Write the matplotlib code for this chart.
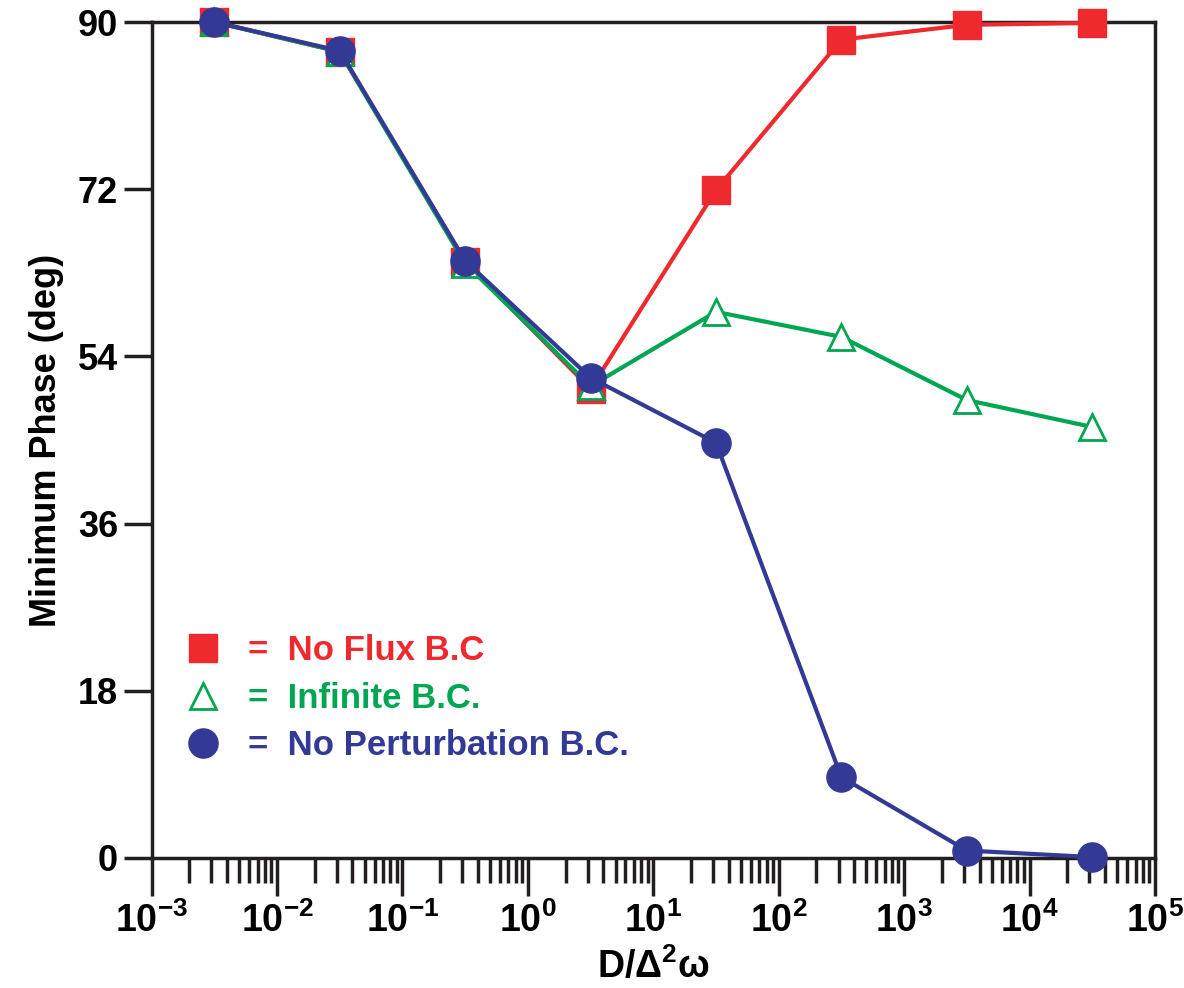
import numpy as np
import matplotlib.pyplot as plt
from matplotlib.lines import Line2D

plt.rcParams['font.family'] = ['Liberation Sans', 'DejaVu Sans']
plt.rcParams['font.weight'] = 'bold'
plt.rcParams['mathtext.fontset'] = 'custom'
plt.rcParams['mathtext.rm'] = 'Liberation Sans:bold'
plt.rcParams['mathtext.bf'] = 'Liberation Sans:bold'
plt.rcParams['mathtext.default'] = 'bf'

# D / Delta^2 omega
x = [10**-2.5, 10**-1.5, 10**-0.5, 10**0.5, 10**1.5, 10**2.5, 10**3.5, 10**4.5]
no_flux = [90.0, 86.8, 64.2, 50.5, 71.9, 88.1, 89.7, 89.9]
infinite = [90.0, 86.8, 64.0, 50.8, 58.8, 56.1, 49.3, 46.4]
no_pert = [90.0, 86.9, 64.3, 51.7, 44.7, 8.7, 0.8, 0.1]

red = '#EE2A2F'
green = '#00A651'
blue = '#333A96'

fig = plt.figure(figsize=(11.84, 9.88), dpi=100)
ax = fig.add_axes([0.128, 0.1316, 0.8475, 0.8461])

ax.plot(x, no_flux, color=red, lw=3, marker='s', ms=20, zorder=3, clip_on=False)
ax.plot(x, infinite, color=green, lw=3, marker='^', ms=19, mfc='white',
        mew=2, zorder=4, clip_on=False)
ax.plot(x, no_pert, color=blue, lw=3, marker='o', ms=21, zorder=5, clip_on=False)

ax.set_xscale('log')
ax.set_xlim(1e-3, 1e5)
ax.set_ylim(0, 90)
ax.set_yticks([0, 18, 36, 54, 72, 90])
ax.set_xticks([10.0**k for k in range(-3, 6)])

for s in ax.spines.values():
    s.set_linewidth(2.5)
    s.set_color('#231F20')

ax.tick_params(axis='y', direction='out', length=20, width=2.5, labelsize=26,
               color='#231F20', pad=4)
ax.tick_params(axis='x', which='major', direction='out', length=27, width=2.5,
               labelsize=27, color='#231F20', pad=5)
ax.tick_params(axis='x', which='minor', direction='out', length=18, width=2.5,
               color='#231F20')

ax.set_ylabel('Minimum Phase (deg)', fontsize=26, fontweight='bold', labelpad=10)
ax.set_xlabel(r'D/Δ$^{2}$ω', fontsize=27, fontweight='bold', labelpad=5)

handles = [
    Line2D([], [], color=red, marker='s', ms=20, ls='none'),
    Line2D([], [], color=green, marker='^', ms=19, mfc='white', mew=2, ls='none'),
    Line2D([], [], color=blue, marker='o', ms=21, ls='none'),
]
labels = ['=  No Flux B.C', '=  Infinite B.C.', '=  No Perturbation B.C.']
leg = ax.legend(handles, labels, loc='lower left', bbox_to_anchor=(0.003, 0.077),
                frameon=False, fontsize=25, handlelength=1.0, handletextpad=0.8,
                labelspacing=0.42)
for t, c in zip(leg.get_texts(), [red, green, blue]):
    t.set_color(c)
    t.set_fontweight('bold')

fig.savefig('out.png', dpi=100)
